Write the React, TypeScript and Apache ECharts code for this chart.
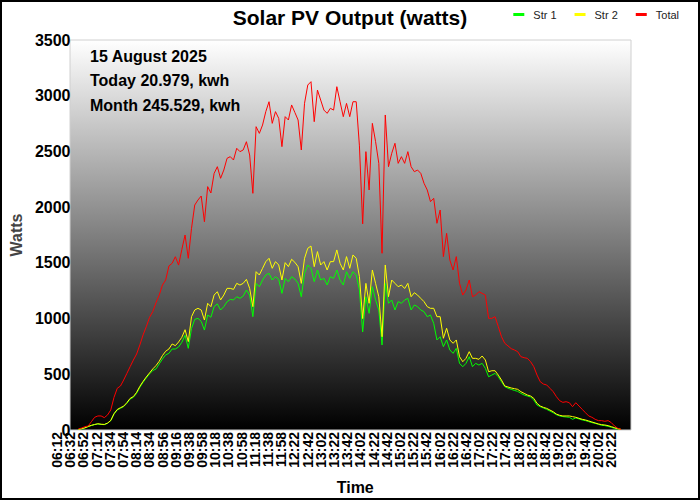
import React, { useEffect, useRef } from 'react';
import * as echarts from 'echarts';

// every 10th sample time, as printed under the chart
const timeLabels = [
  '06:12', '06:32', '06:52', '07:12', '07:34', '07:54', '08:14', '08:34', '08:56', '09:16',
  '09:38', '09:58', '10:18', '10:38', '10:58', '11:18', '11:38', '11:58', '12:22', '12:42',
  '13:02', '13:22', '13:42', '14:02', '14:22', '14:42', '15:02', '15:22', '15:42', '16:02',
  '16:22', '16:42', '17:02', '17:22', '17:42', '18:02', '18:22', '18:42', '19:02', '19:22',
  '19:42', '20:02', '20:22',
];

const str1 = [
  6, 10, 18, 30, 40, 48, 54, 50, 48, 60,
  84, 144, 180, 195, 210, 240, 278, 293, 329, 383,
  428, 467, 503, 533, 548, 593, 637, 674, 688, 727,
  727, 745, 787, 850, 733, 912, 993, 1002, 975, 897,
  1032, 1012, 1107, 1132, 1077, 1107, 1151, 1172, 1167, 1196,
  1181, 1202, 1256, 1211, 1017, 1316, 1286, 1346, 1391, 1406,
  1346, 1376, 1352, 1226, 1361, 1331, 1376, 1355, 1316, 1196,
  1406, 1481, 1451, 1331, 1436, 1346, 1361, 1301, 1376, 1361,
  1436, 1346, 1301, 1421, 1361, 1421, 1391, 1256, 880, 1196,
  1047, 1286, 1167, 1077, 763, 1316, 1137, 1167, 1077, 1152,
  1137, 1167, 1181, 1077, 1122, 1107, 1077, 1062, 1017, 1032,
  957, 808, 837, 748, 808, 718, 688, 733, 598, 568,
  598, 658, 568, 598, 583, 598, 553, 478, 493, 508,
  478, 433, 389, 375, 365, 355, 347, 329, 314, 305,
  296, 269, 224, 209, 197, 185, 170, 155, 137, 126,
  120, 117, 114, 96, 108, 99, 90, 84, 75, 66,
  60, 51, 42, 39, 33, 24, 15, 9, 4,
];

const str2 = [
  5, 12, 20, 32, 42, 50, 56, 52, 50, 62,
  86, 146, 184, 200, 214, 246, 284, 300, 338, 392,
  436, 476, 512, 548, 578, 617, 668, 707, 727, 772,
  757, 790, 832, 900, 793, 1017, 1077, 1092, 1077, 987,
  1137, 1107, 1211, 1241, 1167, 1211, 1271, 1271, 1262, 1316,
  1301, 1316, 1352, 1271, 1107, 1421, 1391, 1451, 1511, 1541,
  1451, 1511, 1481, 1346, 1502, 1466, 1532, 1505, 1466, 1316,
  1541, 1631, 1651, 1466, 1601, 1481, 1511, 1436, 1511, 1511,
  1616, 1496, 1436, 1556, 1451, 1571, 1541, 1376, 1000, 1316,
  1137, 1436, 1316, 1196, 837, 1481, 1196, 1346, 1316, 1286,
  1301, 1270, 1316, 1196, 1232, 1211, 1181, 1152, 1107, 1092,
  1092, 1017, 1017, 823, 913, 808, 778, 808, 658, 613,
  643, 703, 643, 643, 634, 664, 628, 523, 532, 532,
  493, 448, 395, 386, 377, 371, 365, 344, 329, 314,
  305, 284, 239, 215, 203, 194, 179, 164, 143, 132,
  126, 126, 126, 120, 114, 105, 96, 90, 81, 72,
  63, 54, 48, 45, 39, 30, 21, 12, 5,
];

const total = [
  10, 18, 30, 36, 75, 114, 126, 126, 111, 135,
  180, 293, 374, 395, 449, 509, 569, 628, 682, 763,
  853, 927, 1011, 1062, 1142, 1211, 1301, 1346, 1472, 1496,
  1555, 1480, 1620, 1750, 1541, 1810, 2019, 2064, 2100, 1869,
  2184, 2127, 2303, 2363, 2259, 2333, 2438, 2453, 2423, 2528,
  2498, 2513, 2587, 2468, 2124, 2722, 2662, 2737, 2857, 2946,
  2752, 2857, 2797, 2543, 2812, 2782, 2917, 2850, 2782, 2513,
  2932, 3096, 3126, 2767, 3051, 2961, 2871, 2842, 2887, 2871,
  3081, 2946, 2812, 2931, 2812, 2946, 2946, 2550, 1850, 2498,
  2154, 2752, 2588, 2393, 1586, 2827, 2363, 2483, 2573, 2393,
  2453, 2393, 2498, 2363, 2318, 2333, 2303, 2214, 2154, 2049,
  2079, 1855, 1974, 1556, 1765, 1525, 1436, 1556, 1316, 1211,
  1256, 1346, 1196, 1211, 1241, 1226, 1211, 1002, 1002, 1017,
  928, 837, 778, 755, 730, 718, 703, 658, 649, 643,
  613, 568, 493, 433, 412, 404, 374, 344, 299, 263,
  248, 254, 245, 209, 245, 215, 185, 155, 126, 114,
  96, 84, 84, 78, 84, 66, 36, 15, 6,
];

const notes = ['15 August 2025', 'Today 20.979, kwh', 'Month 245.529, kwh'];

const FONT = '"Liberation Sans", Arial, sans-serif';

const App = () => {
  const chartRef = useRef<HTMLDivElement>(null);

  useEffect(() => {
    document.body.style.margin = '0';
    if (!chartRef.current) return;
    const chart = echarts.init(chartRef.current, null, { renderer: 'svg' });

    const line = (name: string, data: number[], color: string) => ({
      name,
      type: 'line',
      xAxisIndex: 0,
      yAxisIndex: 0,
      data,
      showSymbol: false,
      symbol: 'none',
      color,
      lineStyle: { width: 1, color },
    });

    const option: echarts.EChartsOption = {
      animation: false,
      backgroundColor: '#ffffff',
      textStyle: { fontFamily: FONT },
      title: {
        text: 'Solar PV Output (watts)',
        left: 'center',
        top: 2,
        textStyle: { fontSize: 21, fontWeight: 'bold', color: '#000', fontFamily: FONT },
      },
      legend: {
        right: 21,
        top: 9,
        padding: 0,
        itemGap: 18,
        itemWidth: 11,
        itemHeight: 3,
        icon: 'rect',
        data: ['Str 1', 'Str 2', 'Total'],
        textStyle: { fontSize: 11, color: '#222', padding: [0, 0, 0, 4] },
      },
      grid: [
        { left: 73, right: 79, top: 40, bottom: 70 },
        { left: 57, right: 89, top: 40, bottom: 70 },
      ],
      xAxis: [
        {
          type: 'category',
          gridIndex: 0,
          data: str1.map((_, i) => String(i)),
          boundaryGap: false,
          axisLine: { show: false },
          axisTick: { show: false },
          axisLabel: { show: false },
          splitLine: { show: false },
          name: 'Time',
          nameLocation: 'middle',
          nameGap: 49,
          nameTextStyle: { fontSize: 16, fontWeight: 'bold', color: '#000', padding: [0, 0, 0, 11] },
        },
        {
          type: 'category',
          gridIndex: 1,
          data: timeLabels,
          boundaryGap: false,
          axisLine: { show: false },
          axisTick: { show: false },
          splitLine: { show: false },
          axisLabel: { interval: 0, rotate: 90, margin: 2, fontSize: 14, fontWeight: 'bold', color: '#000' },
        },
      ],
      yAxis: [
        {
          type: 'value',
          gridIndex: 0,
          min: 0,
          max: 3500,
          interval: 500,
          axisLine: { show: false },
          axisTick: { show: false },
          splitLine: { show: false },
          axisLabel: {
            margin: 8,
            fontSize: 16,
            fontWeight: 'bold',
            color: '#000',
            formatter: (v: number) => String(v),
          },
          name: 'Watts',
          nameLocation: 'middle',
          nameRotate: 90,
          nameGap: 47,
          nameTextStyle: { fontSize: 16, fontWeight: 'bold', color: '#444' },
        },
        { type: 'value', gridIndex: 1, show: false },
      ],
      graphic: [
        {
          type: 'rect',
          z: 0,
          silent: true,
          shape: { x: 70, y: 40, width: 561, height: 390 },
          style: {
            fill: new echarts.graphic.LinearGradient(0, 0, 0, 1, [
              { offset: 0, color: '#ffffff' },
              { offset: 1, color: '#000000' },
            ]),
            stroke: '#d0d0d0',
            lineWidth: 1,
          },
        },
        ...notes.map((t, i) => ({
          type: 'text' as const,
          z: 100,
          x: 90,
          y: 56 + i * 24.8,
          style: {
            text: t,
            fill: '#000',
            fontSize: 16,
            fontWeight: 'bold' as const,
            fontFamily: FONT,
            verticalAlign: 'middle' as const,
          },
        })),
        {
          type: 'rect',
          z: 100,
          silent: true,
          shape: { x: 1, y: 1, width: 698, height: 498 },
          style: { fill: 'none', stroke: '#000', lineWidth: 2 },
        },
      ],
      series: [
        line('Str 1', str1, '#00ff00'),
        line('Str 2', str2, '#ffff00'),
        line('Total', total, '#ff0000'),
      ] as any,
    };

    chart.setOption(option);
    return () => chart.dispose();
  }, []);

  return <div ref={chartRef} style={{ width: 700, height: 500 }} />;
};

export default App;
